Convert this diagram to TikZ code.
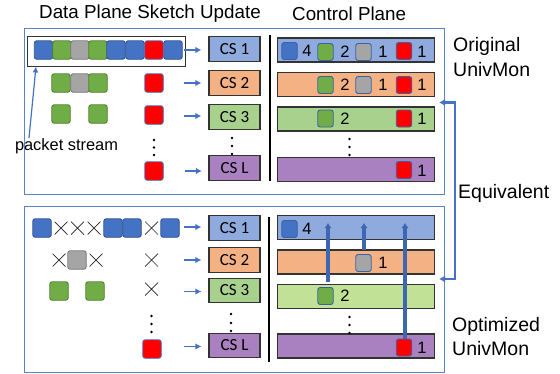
\documentclass[tikz,border=0pt]{standalone}
\usepackage{fontspec}
\setmainfont{Liberation Sans}
\newfontfamily\csfont{Carlito}
\usetikzlibrary{arrows.meta}
\definecolor{frameblue}{HTML}{5B84C8}
\definecolor{pblue}{HTML}{4472C4}
\definecolor{pgreen}{HTML}{70AD47}
\definecolor{pgrey}{HTML}{A5A5A5}
\definecolor{csblue}{HTML}{8FAADC}
\definecolor{csorange}{HTML}{F4B183}
\definecolor{csgreen}{HTML}{A9D18E}
\definecolor{cslime}{HTML}{C0E196}
\definecolor{cspurple}{HTML}{A980C0}
\definecolor{linkblue}{HTML}{3F67B1}
\tikzset{
  frame/.style={draw=frameblue,line width=1pt,fill=none},
  pkt/.style={draw=#1!75!black,fill=#1,rounded corners=2.5pt,line width=.9pt,minimum width=18.5pt,minimum height=18.5pt,inner sep=0pt},
  pktred/.style={draw=pblue,fill=red,rounded corners=2.5pt,line width=.9pt,minimum width=18.5pt,minimum height=18.5pt,inner sep=0pt},
  spkt/.style={draw=pblue!85!black,fill=#1,rounded corners=2.5pt,line width=.9pt,minimum width=15.5pt,minimum height=17pt,inner sep=0pt},
  csbox/.style={draw=black!80,line width=1.2pt,fill=#1,minimum width=51pt,minimum height=24.5pt,inner sep=0pt,font=\csfont\fontsize{17}{18}\selectfont},
  bar/.style={draw=black!80,line width=1.2pt,fill=#1,minimum width=157pt,minimum height=24pt,inner sep=0pt},
  cnt/.style={inner sep=0pt,font=\fontsize{16.5}{17}\selectfont},
  xmark/.style={inner sep=0pt,minimum size=13pt,path picture={\draw[black!85,line width=.7pt]
    (path picture bounding box.south west)--(path picture bounding box.north east)
    (path picture bounding box.north west)--(path picture bounding box.south east);}},
  dotm/.style={circle,fill=black,inner sep=0pt,minimum size=2.8pt},
  feed/.style={draw=pblue,line width=1.7pt,-{Latex[length=6pt,width=6.5pt]}},
  merge/.style={draw=linkblue,line width=3.2pt,-{Latex[length=5pt,width=7.5pt]}},
  equiv/.style={draw=pblue,line width=2.6pt},
  txt/.style={inner sep=0pt,font=\fontsize{18.8}{20}\selectfont,anchor=west},
  rtxt/.style={inner sep=0pt,font=\fontsize{19.5}{20}\selectfont,anchor=west},
  divider/.style={draw=black,line width=1.2pt},
}
\begin{document}
\begin{tikzpicture}[x=1pt,y=-1pt]
\useasboundingbox (0,0) rectangle (560,373);
% frames
\node[frame,minimum width=420.5pt,minimum height=166pt,inner sep=0pt,anchor=north west] (upper) at (23.5,27.5) {};
\node[frame,minimum width=420.5pt,minimum height=166pt,inner sep=0pt,anchor=north west] (lower) at (23.5,206) {};
% titles
\node[txt] (t1) at (39,14) {Data Plane Sketch Update};
\node[txt] (t2) at (292,14) {Control Plane};
\node[rtxt] (t3) at (453,46) {Original};
\node[rtxt] (t4) at (453,70) {UnivMon};
\node[rtxt] (t5) at (458,193) {Equivalent};
\node[rtxt] (t6) at (452,326) {Optimized};
\node[rtxt] (t7) at (452,349) {UnivMon};
% stream box
\node[draw=black!80,line width=1.1pt,minimum width=158pt,minimum height=30pt,inner sep=0pt,anchor=north west] (stream) at (27,36) {};
% upper data plane
\foreach \n/\x/\c in {a/43.5/pblue,b/62/pgreen,c/80/pgrey,d/98/pgreen,e/116/pblue,f/135/pblue,h/173/pblue}
  \node[pkt=\c] (u1\n) at (\x,50) {};
\node[pktred] (u1g) at (154,50) {};
\foreach \n/\x/\c in {a/61/pgreen,b/80/pgrey,c/98/pgreen}
  \node[pkt=\c] (u2\n) at (\x,83) {};
\node[pktred] (u2g) at (154,83) {};
\node[pkt=pgreen] (u3a) at (61,114) {};
\node[pkt=pgreen] (u3b) at (98,114) {};
\node[pktred] (u3g) at (154,115) {};
\node[pktred] (u4g) at (154,171) {};
\foreach \y in {140,147.5,155} \node[dotm] at (154,\y) {};
% upper CS boxes
\node[csbox=csblue] (ucs1) at (234.5,49) {CS 1};
\node[csbox=csorange] (ucs2) at (234.5,83) {CS 2};
\node[csbox=csgreen] (ucs3) at (234.5,117) {CS 3};
\node[csbox=cspurple] (ucsl) at (234.5,168) {CS L};
\foreach \y in {138,146,154} \node[dotm] at (232,\y) {};
% upper arrows
\coordinate (ua1) at (184,50); \coordinate (ua2) at (184,83);
\coordinate (ua3) at (184,116); \coordinate (ua4) at (185,171);
\draw[feed,shorten >=7pt] (ua1) -- (ua1 -| ucs1.west);
\draw[feed,shorten >=7pt] (ua2) -- (ua2 -| ucs2.west);
\draw[feed,shorten >=7pt] (ua3) -- (ua3 -| ucs3.west);
\draw[feed,shorten >=6.5pt] (ua4) -- (ua4 -| ucsl.west);
% packet stream
\node[inner sep=0pt,font=\fontsize{16.4}{17}\selectfont] (ps) at (66.5,146) {packet stream};
\coordinate (psa) at (29,138); \coordinate (psb) at (36,66.5);
\draw[draw=pblue,line width=1.2pt,-{Latex[length=6pt,width=6pt]}] (psa) -- (psb);
% dividers
\coordinate (d1a) at (270,35); \coordinate (d1b) at (270,181);
\draw[divider] (d1a) -- (d1b);
\coordinate (d2a) at (269,217); \coordinate (d2b) at (269,362);
\draw[divider] (d2a) -- (d2b);
% upper bars
\node[bar=csblue] (ub1) at (356,50) {};
\node[bar=csorange] (ub2) at (356,84.5) {};
\node[bar=csgreen] (ub3) at (356,119) {};
\node[bar=cspurple] (ub4) at (356,169.5) {};
\node[spkt=pblue] (s1a) at (289.5,51) {};
\node[cnt] (n1a) at (307,50.5) {4};
\node[spkt=pgreen] (s1b) at (325.5,52) {};
\node[cnt] (n1b) at (345,51.5) {2};
\node[spkt=pgrey] (s1c) at (363.5,52) {};
\node[cnt] (n1c) at (383,51.5) {1};
\node[spkt=red] (s1d) at (404,51) {};
\node[cnt] (n1d) at (422,51.5) {1};
\node[spkt=pgreen] (s2b) at (325.5,85) {};
\node[cnt] (n2b) at (345,84.5) {2};
\node[spkt=pgrey] (s2c) at (363.5,85) {};
\node[cnt] (n2c) at (383,84.5) {1};
\node[spkt=red] (s2d) at (404,85) {};
\node[cnt] (n2d) at (422,84.5) {1};
\node[spkt=pgreen] (s3b) at (325.5,118.5) {};
\node[cnt] (n3b) at (345,118.5) {2};
\node[spkt=red] (s3d) at (404,118.5) {};
\node[cnt] (n3d) at (422,118.5) {1};
\node[spkt=red] (s4d) at (404,170) {};
\node[cnt] (n4d) at (422,170.5) {1};
\foreach \y in {139,147,155} \node[dotm] at (349.5,\y) {};
% lower data plane
\node[pkt=pblue] (l1a) at (42,228) {};
\node[xmark] (x1a) at (61,228) {};
\node[xmark] (x1b) at (77.5,228) {};
\node[xmark] (x1c) at (94,228) {};
\node[pkt=pblue] (l1b) at (113,228) {};
\node[pkt=pblue] (l1c) at (132,228) {};
\node[xmark] (x1d) at (151.5,228) {};
\node[pkt=pblue] (l1d) at (170,228) {};
\node[xmark] (x2a) at (59,260) {};
\node[pkt=pgrey] (l2a) at (77,260) {};
\node[xmark] (x2b) at (96,260) {};
\node[xmark] (x2c) at (151.5,260) {};
\node[pkt=pgreen] (l3a) at (59,291) {};
\node[pkt=pgreen] (l3b) at (95,291) {};
\node[xmark] (x3) at (151.5,289) {};
\node[pktred] (l4) at (152,349) {};
\foreach \y in {316,324,332} \node[dotm] at (151.5,\y) {};
% lower CS boxes
\node[csbox=csblue] (lcs1) at (234.5,228) {CS 1};
\node[csbox=csorange] (lcs2) at (234.5,260) {CS 2};
\node[csbox=csgreen] (lcs3) at (234.5,290.5) {CS 3};
\node[csbox=cspurple] (lcsl) at (234.5,345.5) {CS L};
\foreach \y in {314,323,331} \node[dotm] at (231,\y) {};
\coordinate (la1) at (184,227); \coordinate (la2) at (184,260);
\coordinate (la3) at (184,291.5); \coordinate (la4) at (184,346.5);
\draw[feed,shorten >=7pt] (la1) -- (la1 -| lcs1.west);
\draw[feed,shorten >=7pt] (la2) -- (la2 -| lcs2.west);
\draw[feed,shorten >=7pt] (la3) -- (la3 -| lcs3.west);
\draw[feed,shorten >=7pt] (la4) -- (la4 -| lcsl.west);
% lower bars
\node[bar=csblue] (lb1) at (356,227.5) {};
\node[bar=csorange] (lb2) at (356,262) {};
\node[bar=cslime] (lb3) at (356,296.5) {};
\node[bar=cspurple] (lb4) at (356,346) {};
\node[spkt=pblue] (t1a) at (289.5,229) {};
\node[cnt] (m1a) at (307,228.5) {4};
\node[spkt=pgrey] (t2c) at (363.5,263) {};
\node[cnt] (m2c) at (383,262.5) {1};
\node[spkt=pgreen] (t3b) at (325.5,296) {};
\node[cnt] (m3b) at (345,296) {2};
\node[spkt=red] (t4d) at (404,347.5) {};
\node[cnt] (m4d) at (422,347.5) {1};
\foreach \y in {317,325,333} \node[dotm] at (349.5,\y) {};
% merge arrows
\coordinate (g1) at (328,282); \coordinate (g1t) at (328,223);
\coordinate (g2) at (364,250); \coordinate (g2t) at (364,223);
\coordinate (g3) at (405,339); \coordinate (g3t) at (405,223);
\draw[merge] (g1) -- (g1t);
\draw[merge] (g2) -- (g2t);
\draw[merge] (g3) -- (g3t);
% equivalent bracket
\coordinate (e1) at (439,102.5); \coordinate (e2) at (439,279);
\draw[equiv,{Latex[length=6pt,width=7pt]}-{Latex[length=6pt,width=7pt]}] (e1) -- (455,102.5) -- (455,279) -- (e2);
\end{tikzpicture}
\end{document}
